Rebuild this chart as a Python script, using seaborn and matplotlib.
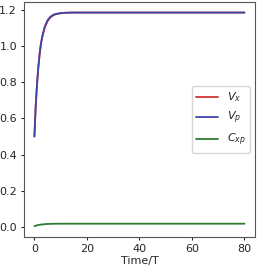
import matplotlib
matplotlib.use("Agg")
import matplotlib.pyplot as plt
import seaborn as sns
import pandas as pd

sns.set_theme(style="ticks")
plt.rcParams['font.family'] = ['DejaVu Sans']

time = [0, 0.5, 1, 1.5, 2, 2.5, 3, 4, 5, 6, 7, 8, 10, 12, 15, 20, 30, 40, 50, 60, 70, 80]
v_p = [0.50, 0.67, 0.79, 0.885, 0.96, 1.015, 1.055, 1.11, 1.142, 1.161, 1.171, 1.177, 1.182, 1.184, 1.185,
       1.185, 1.185, 1.185, 1.185, 1.185, 1.185, 1.185]
v_x = [0.50, 0.668, 0.787, 0.881, 0.955, 1.01, 1.05, 1.104, 1.137, 1.157, 1.168, 1.175, 1.181, 1.184, 1.185,
       1.185, 1.185, 1.185, 1.185, 1.185, 1.185, 1.185]
c_xp = [0.004, 0.007, 0.009, 0.011, 0.012, 0.013, 0.014, 0.0155, 0.0165, 0.017, 0.0175, 0.0178, 0.018, 0.018, 0.018,
        0.018, 0.018, 0.018, 0.018, 0.018, 0.018, 0.018]

labels = [r'$V_x$', r'$V_p$', r'$C_{xp}$']
colors = ['#d03434', '#3f46a8', '#2f7a2f']

df = pd.DataFrame({'time': time * 3,
                   'value': v_x + v_p + c_xp,
                   'series': [labels[0]] * len(time) + [labels[1]] * len(time) + [labels[2]] * len(time)})

fig = plt.figure(figsize=(2.57, 2.68), dpi=100)
ax = fig.add_axes([0.093, 0.116, 0.899, 0.877])
sns.lineplot(data=df, x='time', y='value', hue='series', palette=colors, ax=ax, linewidth=1.3)

ax.set_xticks([0, 20, 40, 60, 80])
ax.set_yticks([0.0, 0.2, 0.4, 0.6, 0.8, 1.0, 1.2])
ax.tick_params(labelsize=8, length=2.5, width=0.8, pad=2.5)
ax.set_xlabel('Time/T', fontsize=8, labelpad=1.5)
ax.set_ylabel('')
for s in ax.spines.values():
    s.set_color('#555555')
    s.set_linewidth(0.8)
leg = ax.legend(loc='center right', fontsize=8, frameon=True, handlelength=2.0,
                borderaxespad=0.4)
leg.set_title(None)

fig.savefig('out.png', dpi=100)
